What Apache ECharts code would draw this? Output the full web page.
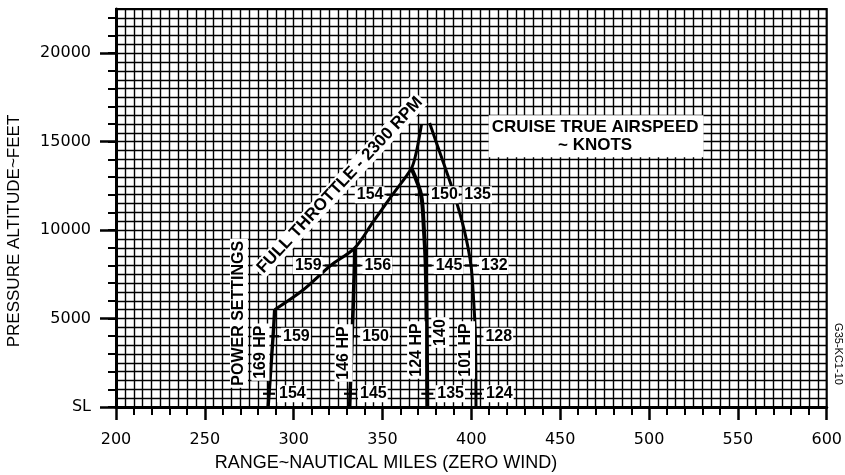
<!DOCTYPE html>
<html>
<head>
<meta charset="utf-8">
<script src="https://cdn.jsdelivr.net/npm/echarts@6/dist/echarts.min.js"></script>
<style>
  html, body { margin: 0; padding: 0; background: #fff; }
  #chart { width: 845px; height: 475px; }
</style>
</head>
<body>
<div id="chart"></div>
<script>
// Axis ticks and labels
const rangeTicks = [200, 250, 300, 350, 400, 450, 500, 550, 600];
const altitudeTicks = [0, 5000, 10000, 15000, 20000];
const altitudeTickText = ['SL', '5000', '10000', '15000', '20000'];
const altitudeMinorTicks = [0, 1000, 2000, 3000, 4000, 5000, 6000, 7000, 8000, 9000, 10000,
  11000, 12000, 13000, 14000, 15000, 16000, 17000, 18000, 19000, 20000, 21000, 22000];

// Range (nautical miles) against pressure altitude (feet)
const fullThrottle = [[289.3, 5500], [305.1, 6600], [320.8, 8000], [334.3, 8980], [344.6, 10450],
  [355.6, 12000], [366.3, 13500], [368.9, 14350], [370.5, 15150], [371.9, 15950]];
const hp169 = [[285.6, 0], [288.4, 4000], [289.3, 5500]];
const hp146 = [[331.5, 0], [332.9, 4000], [334.2, 8000], [334.3, 8980]];
const hp124 = [[375.2, 0], [374.9, 4000], [374.3, 8000], [373.3, 10000], [371.7, 12000], [366.3, 13500]];
const hp101 = [[402.6, 0], [402.3, 4000], [401.3, 6000], [399.8, 8000], [396.0, 10000],
  [390.4, 12000], [383.6, 14000], [376.5, 16050]];

// True airspeed callouts (knots): [range, altitude, knots, side]
const airspeedMarks = [
  [286.1, 750, '154', 'right'], [288.4, 4000, '159', 'right'],
  [331.7, 750, '145', 'right'], [332.9, 4000, '150', 'right'], [334.2, 8000, '156', 'right'],
  [375.2, 750, '135', 'right'], [374.9, 4000, '', 'right'], [374.3, 8000, '145', 'right'], [371.7, 12000, '150', 'right'],
  [402.6, 750, '124', 'right'], [402.3, 4000, '128', 'right'], [399.8, 8000, '132', 'right'], [390.4, 12000, '135', 'right'],
  [320.8, 8000, '159', 'left'], [355.6, 12000, '154', 'left']
];

// Captions placed on the plot: [range, altitude, text, rotation]
const captions = [
  [269.2, 5300, 'POWER SETTINGS', 90],
  [281.3, 3100, '169 HP', 90],
  [328.1, 3050, '146 HP', 90],
  [368.9, 3220, '124 HP', 90],
  [382.5, 4210, '140', 90],
  [397.0, 3220, '101 HP', 90],
  [326.0, 12550, 'FULL THROTTLE - 2300 RPM', 47]
];
const cruiseNote = [470.2, 15300, 'CRUISE TRUE AIRSPEED\n~ KNOTS'];

const FONT = 'Liberation Sans, Arial, sans-serif';
const chart = echarts.init(document.getElementById('chart'), null, { renderer: 'canvas' });

const gridLine = { color: '#000', width: 1.4 };

function curve(name, data, width) {
  return {
    name, type: 'line', data, xAxisIndex: 0, yAxisIndex: 0,
    symbol: 'none', smooth: 0.3, silent: true, z: 5,
    lineStyle: { color: '#000', width }
  };
}

chart.setOption({
  animation: false,
  backgroundColor: '#fff',
  grid: { left: 116, right: 17, top: 9, bottom: 68, show: true, borderColor: '#000', borderWidth: 2 },
  xAxis: [
    {
      type: 'value', min: 200, max: 600, interval: 50, position: 'bottom',
      axisLine: { show: true, lineStyle: { color: '#000', width: 3 } },
      axisTick: { show: true, length: 13, lineStyle: { color: '#000', width: 2.5 } },
      minorTick: { show: true, splitNumber: 5, length: 8, lineStyle: { color: '#000', width: 2 } },
      axisLabel: { show: true, margin: 25, fontFamily: 'DejaVu Sans', fontSize: 16, color: '#000',
        customValues: rangeTicks },
      splitLine: { show: false }
    },
    {
      type: 'value', min: 200, max: 600, interval: 5, position: 'bottom', offset: 0,
      axisLine: { show: false }, axisTick: { show: false }, axisLabel: { show: false },
      splitLine: { show: true, lineStyle: gridLine }
    }
  ],
  yAxis: [
    {
      type: 'value', min: 0, max: 22500, interval: 5000, position: 'left', offset: 0,
      axisLine: { show: true, lineStyle: { color: '#000', width: 3 } },
      axisTick: { show: true, length: 16, customValues: altitudeTicks, lineStyle: { color: '#000', width: 2.5 } },
      axisLabel: {
        show: true, margin: 25, fontFamily: 'DejaVu Sans', fontSize: 16, color: '#000',
        customValues: altitudeTicks,
        formatter: v => altitudeTickText[altitudeTicks.indexOf(v)] || ''
      },
      splitLine: { show: false }
    },
    {
      type: 'value', min: 0, max: 22500, interval: 1000, position: 'left', offset: 0,
      axisLine: { show: false },
      axisTick: { show: true, length: 8, customValues: altitudeMinorTicks, lineStyle: { color: '#000', width: 2 } },
      axisLabel: { show: false },
      splitLine: { show: false }
    },
    {
      type: 'value', min: 0, max: 22500, interval: 500, position: 'left', offset: 0,
      axisLine: { show: false }, axisTick: { show: false }, axisLabel: { show: false },
      splitLine: { show: true, lineStyle: gridLine }
    }
  ],
  series: [
    curve('Full throttle', fullThrottle, 3),
    curve('169 HP', hp169, 3.4),
    curve('146 HP', hp146, 3.6),
    curve('124 HP', hp124, 4),
    curve('101 HP', hp101, 3),
    {
      name: 'Airspeed', type: 'scatter', xAxisIndex: 0, yAxisIndex: 0, silent: true, clip: false, z: 10,
      symbol: 'rect', symbolSize: [12, 2.2], itemStyle: { color: '#000', opacity: 1 },
      data: airspeedMarks.map(([x, y, t, side]) => ({
        value: [x, y], name: t,
        label: { show: t !== '', position: side }
      })),
      label: {
        show: true, formatter: p => p.name, fontFamily: FONT, fontWeight: 'bold', fontSize: 16, color: '#000',
        backgroundColor: '#fff', padding: [1, 1, 0, 2], distance: 2, lineHeight: 16
      }
    },
    {
      name: 'Captions', type: 'scatter', xAxisIndex: 0, yAxisIndex: 0, silent: true, clip: false, z: 11,
      symbol: 'circle', symbolSize: 0, itemStyle: { color: '#000', opacity: 1 },
      data: captions.map(([x, y, t, r]) => ({
        value: [x, y], name: t,
        label: { rotate: r, fontSize: t.startsWith('FULL') ? 17 : 16 }
      })).concat([{
        value: [cruiseNote[0], cruiseNote[1]], name: cruiseNote[2],
        label: { rotate: 0, fontSize: 17, lineHeight: 18, align: 'center', padding: [3, 5, 3, 3] }
      }]),
      label: {
        show: true, position: 'inside', formatter: p => p.name, fontFamily: FONT, fontWeight: 'bold', fontSize: 16,
        color: '#000', backgroundColor: '#fff', padding: [1, 2, 0, 2], lineHeight: 17
      }
    }
  ],
  graphic: [
    {
      type: 'text', x: 14, y: 231, rotation: Math.PI / 2, silent: true,
      style: { text: 'PRESSURE ALTITUDE~FEET', font: '17px ' + FONT, fill: '#000',
        textAlign: 'center', textVerticalAlign: 'middle', align: 'center', verticalAlign: 'middle' }
    },
    {
      type: 'text', x: 386, y: 463, silent: true,
      style: { text: 'RANGE~NAUTICAL MILES (ZERO WIND)', font: '18px ' + FONT, fill: '#000',
        textAlign: 'center', textVerticalAlign: 'middle', align: 'center', verticalAlign: 'middle' }
    },
    {
      type: 'text', x: 838, y: 354, rotation: -Math.PI / 2, silent: true,
      style: { text: 'G35-KC1-10', font: '11px ' + FONT, fill: '#000',
        textAlign: 'center', textVerticalAlign: 'middle', align: 'center', verticalAlign: 'middle' }
    }
  ]
});
</script>
</body>
</html>
